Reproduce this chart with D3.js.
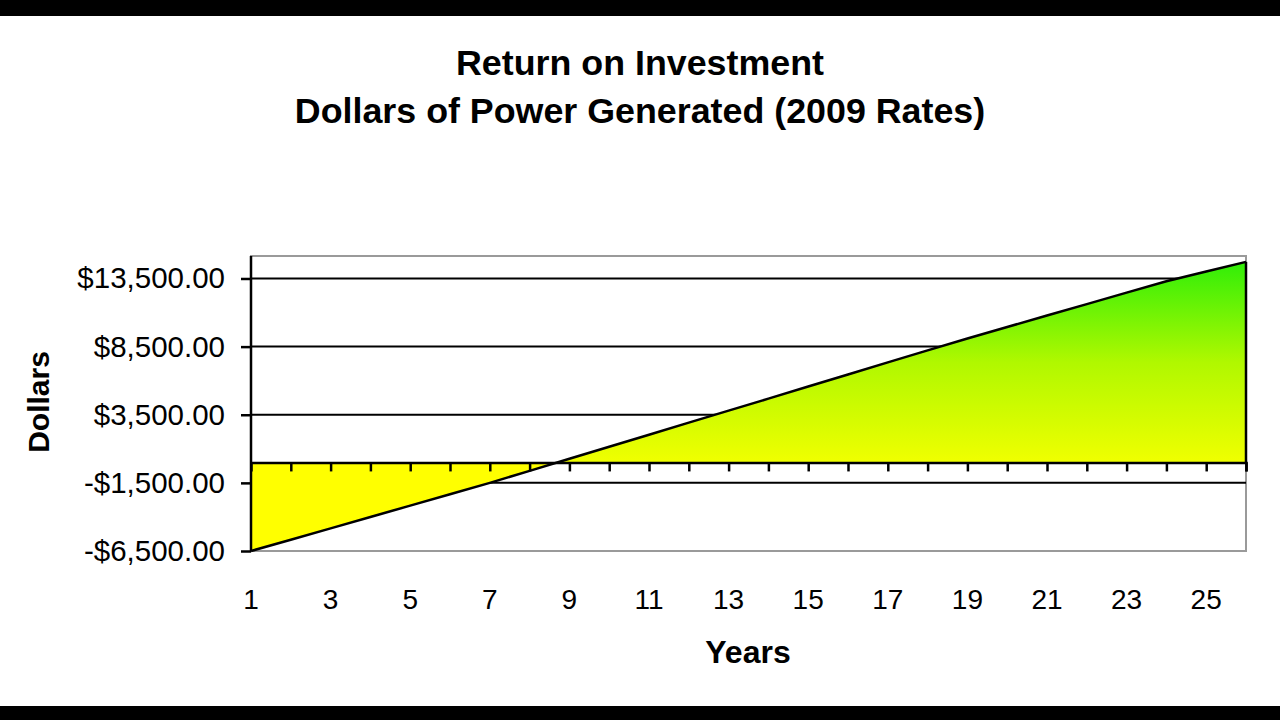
<!DOCTYPE html>
<html><head><meta charset="utf-8">
<script src="https://cdn.jsdelivr.net/npm/d3@7"></script>
<style>html,body{margin:0;padding:0;background:#fff;}svg{display:block;}</style>
</head><body>
<svg id="c" width="1280" height="720"></svg>
<script>
const years = d3.range(1, 27);
const values = [-6500,-5670,-4840,-4000,-3170,-2330,-1500,-620,270,1150,2030,2920,3800,
  4680,5570,6450,7340,8220,9100,9940,10780,11620,12460,13300,14010,14720];
const yTicks = [-6500,-1500,3500,8500,13500];
const xLabels = [1,3,5,7,9,11,13,15,17,19,21,23,25];
const titleLines = ["Return on Investment","Dollars of Power Generated (2009 Rates)"];

const svg = d3.select("#c");
const W = 1280, H = 720;
svg.append("rect").attr("width",W).attr("height",H).attr("fill","#fff");
svg.append("rect").attr("x",0).attr("y",0).attr("width",W).attr("height",16).attr("fill","#000");
svg.append("rect").attr("x",0).attr("y",706).attr("width",W).attr("height",14).attr("fill","#000");

const L = 251, R = 1246, T = 256, B = 551;
const x = d3.scaleLinear().domain([1,26]).range([L,R]);
const y = d3.scaleLinear().domain([-6500,15150]).range([B,T]);
const data = years.map((yr,i)=>({yr, v: values[i]}));
const FF = "'Liberation Sans', Arial, sans-serif";

// titles
svg.selectAll("text.title").data(titleLines).enter().append("text")
  .attr("x",640).attr("y",(d,i)=>75+i*48).attr("text-anchor","middle")
  .attr("font-family",FF).attr("font-weight","bold")
  .attr("font-size",35.8).attr("fill","#000").text(d=>d);

// plot border
svg.append("rect").attr("x",L).attr("y",T).attr("width",R-L).attr("height",B-T)
  .attr("fill","none").attr("stroke","#9a9a9a").attr("stroke-width",2);

// gridlines
svg.append("g").selectAll("line").data(yTicks.filter(t=>t!==-6500)).enter().append("line")
  .attr("x1",L).attr("x2",R).attr("y1",d=>y(d)).attr("y2",d=>y(d))
  .attr("stroke","#000").attr("stroke-width",2);

// gradient
const defs = svg.append("defs");
const grad = defs.append("linearGradient").attr("id","g1").attr("gradientUnits","userSpaceOnUse")
  .attr("x1",0).attr("x2",0).attr("y1",y(0)).attr("y2",y(d3.max(values)));
grad.append("stop").attr("offset",0).attr("stop-color","#f0ff00");
grad.append("stop").attr("offset",0.5).attr("stop-color","#b0f800");
grad.append("stop").attr("offset",1).attr("stop-color","#30ee08");

const negClip = defs.append("clipPath").attr("id","neg");
negClip.append("rect").attr("x",0).attr("y",y(0)).attr("width",W).attr("height",H);

const area = d3.area().x(d=>x(d.yr)).y0(y(0)).y1(d=>y(d.v));
svg.append("path").datum(data).attr("d",area).attr("fill","url(#g1)");
svg.append("path").datum(data).attr("d",area).attr("fill","#ffff00").attr("clip-path","url(#neg)");

// series outline
const line = d3.line().x(d=>x(d.yr)).y(d=>y(d.v));
svg.append("path").datum(data).attr("d",line).attr("fill","none").attr("stroke","#000").attr("stroke-width",2.5);
svg.append("line").attr("x1",x(26)).attr("x2",x(26)).attr("y1",y(values[25])).attr("y2",y(0))
  .attr("stroke","#000").attr("stroke-width",2.5);

// category axis at zero
const xAxis = d3.axisBottom(x).tickValues(years.slice(1)).tickSize(9).tickFormat("");
const gx = svg.append("g").attr("transform",`translate(0,${y(0)})`).call(xAxis);
gx.select(".domain").attr("stroke","#000").attr("stroke-width",2.5);
gx.selectAll(".tick line").attr("stroke","#000").attr("stroke-width",2.5);

// category labels at bottom
svg.append("g").selectAll("text").data(xLabels).enter().append("text")
  .attr("x",d=>x(d)).attr("y",609).attr("text-anchor","middle")
  .attr("font-family",FF).attr("font-size",28)
  .attr("fill","#000").text(d=>d);

// value axis
const fmt = d => (d<0?"-":"") + "$" + d3.format(",.2f")(Math.abs(d));
const yAxis = d3.axisLeft(y).tickValues(yTicks).tickSize(10).tickPadding(16).tickFormat(fmt);
const gy = svg.append("g").attr("transform",`translate(${L},0)`).call(yAxis);
gy.select(".domain").attr("d",`M0,${T}V${B}`).attr("stroke","#000").attr("stroke-width",2.5);
gy.selectAll(".tick line").attr("stroke","#000").attr("stroke-width",2.5);
gy.selectAll(".tick text").attr("font-family",FF)
  .attr("font-size",29.5).attr("fill","#000");

// axis titles
svg.append("text").attr("x",748).attr("y",663).attr("text-anchor","middle")
  .attr("font-family",FF).attr("font-weight","bold")
  .attr("font-size",32).text("Years");
svg.append("text").attr("transform","translate(49,402) rotate(-90)").attr("text-anchor","middle")
  .attr("font-family",FF).attr("font-weight","bold")
  .attr("font-size",30).text("Dollars");
</script>
</body></html>
